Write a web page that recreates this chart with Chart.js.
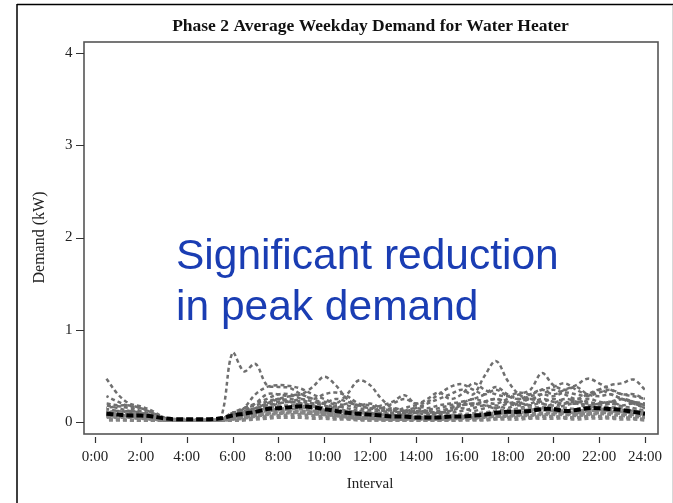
<!DOCTYPE html>
<html>
<head>
<meta charset="utf-8">
<script src="https://cdn.jsdelivr.net/npm/chart.js@4/dist/chart.umd.min.js"></script>
<style>
  html, body { margin: 0; padding: 0; background: #fff; }
  #wrap { width: 673px; height: 503px; position: relative; }
</style>
</head>
<body>
<div id="wrap"><canvas id="c"></canvas></div>
<script>
// ---- data (half-hour intervals, hours 0.5 .. 24) ----
const hours = [0.5,1,1.5,2,2.5,3,3.5,4,4.5,5,5.5,6,6.5,7,7.5,8,8.5,9,9.5,10,10.5,11,11.5,12,
               12.5,13,13.5,14,14.5,15,15.5,16,16.5,17,17.5,18,18.5,19,19.5,20,20.5,21,21.5,22,22.5,23,23.5,24];
const xTickLabels = ["0:00","2:00","4:00","6:00","8:00","10:00","12:00","14:00","16:00","18:00","20:00","22:00","24:00"];
const yTickLabels = ["0","1","2","3","4"];

const averageDemand = [0.09,0.08,0.07,0.07,0.06,0.04,0.03,0.03,0.03,0.03,0.04,0.07,0.09,0.11,0.14,0.15,0.16,0.17,0.16,0.14,0.12,0.10,0.09,0.08,
                       0.07,0.06,0.06,0.05,0.05,0.05,0.06,0.06,0.07,0.08,0.10,0.11,0.11,0.12,0.14,0.14,0.12,0.13,0.15,0.15,0.14,0.13,0.11,0.09];

const site1 = [0.47,0.30,0.20,0.17,0.12,0.05,0.02,0.02,0.02,0.02,0.03,0.10,0.15,0.18,0.22,0.25,0.22,0.20,0.18,0.15,0.12,0.10,0.12,0.10,
               0.08,0.07,0.08,0.10,0.12,0.10,0.12,0.18,0.20,0.18,0.15,0.20,0.22,0.25,0.20,0.18,0.20,0.22,0.20,0.18,0.20,0.17,0.15,0.12];
const site2 = [0.28,0.22,0.17,0.15,0.10,0.04,0.02,0.02,0.02,0.02,0.05,0.75,0.55,0.63,0.40,0.38,0.37,0.30,0.25,0.20,0.15,0.12,0.10,0.10,
               0.08,0.08,0.10,0.12,0.10,0.08,0.10,0.12,0.15,0.18,0.15,0.12,0.15,0.18,0.20,0.15,0.18,0.20,0.15,0.12,0.15,0.13,0.12,0.10];
const site3 = [0.15,0.17,0.15,0.12,0.08,0.04,0.02,0.02,0.02,0.02,0.03,0.10,0.12,0.20,0.30,0.30,0.28,0.30,0.38,0.49,0.40,0.25,0.18,0.15,
               0.12,0.10,0.12,0.15,0.12,0.10,0.15,0.20,0.25,0.22,0.20,0.25,0.30,0.35,0.53,0.40,0.35,0.38,0.30,0.28,0.30,0.25,0.22,0.20];
const site4 = [0.10,0.12,0.10,0.08,0.05,0.03,0.02,0.02,0.02,0.02,0.02,0.08,0.15,0.20,0.25,0.30,0.30,0.25,0.20,0.22,0.20,0.30,0.45,0.40,
               0.25,0.15,0.12,0.15,0.20,0.25,0.30,0.35,0.30,0.50,0.66,0.45,0.30,0.25,0.30,0.35,0.30,0.25,0.30,0.35,0.30,0.25,0.20,0.18];
const site5 = [0.20,0.18,0.18,0.15,0.10,0.05,0.02,0.02,0.02,0.02,0.02,0.05,0.15,0.30,0.38,0.40,0.39,0.36,0.30,0.25,0.20,0.18,0.15,0.13,
               0.15,0.20,0.25,0.20,0.22,0.30,0.38,0.41,0.35,0.30,0.35,0.28,0.25,0.30,0.35,0.30,0.35,0.40,0.47,0.42,0.35,0.30,0.30,0.25];
const site6 = [0.08,0.10,0.08,0.06,0.04,0.02,0.02,0.02,0.02,0.02,0.02,0.04,0.08,0.12,0.18,0.22,0.25,0.22,0.20,0.18,0.15,0.20,0.18,0.15,
               0.18,0.22,0.29,0.20,0.25,0.32,0.25,0.30,0.42,0.35,0.30,0.28,0.32,0.30,0.35,0.38,0.42,0.35,0.30,0.35,0.40,0.42,0.46,0.35];
const site7 = [0.12,0.10,0.12,0.10,0.06,0.03,0.02,0.02,0.02,0.02,0.02,0.06,0.10,0.15,0.20,0.25,0.28,0.30,0.25,0.30,0.32,0.28,0.20,0.18,
               0.15,0.12,0.15,0.18,0.15,0.18,0.20,0.22,0.25,0.30,0.38,0.30,0.25,0.28,0.30,0.28,0.32,0.30,0.28,0.32,0.35,0.30,0.28,0.25];
const site8 = [0.05,0.08,0.06,0.05,0.03,0.02,0.02,0.02,0.02,0.02,0.02,0.05,0.08,0.12,0.15,0.20,0.22,0.25,0.22,0.20,0.25,0.22,0.18,0.20,
               0.15,0.12,0.10,0.12,0.10,0.12,0.15,0.18,0.20,0.22,0.25,0.22,0.20,0.25,0.22,0.25,0.22,0.20,0.25,0.22,0.20,0.25,0.22,0.18];
const site9 = [0.18,0.15,0.12,0.10,0.07,0.04,0.02,0.02,0.02,0.02,0.03,0.08,0.12,0.15,0.18,0.20,0.22,0.20,0.18,0.15,0.17,0.15,0.12,0.10,
               0.12,0.15,0.12,0.10,0.13,0.15,0.18,0.20,0.18,0.22,0.25,0.20,0.18,0.20,0.25,0.22,0.20,0.25,0.22,0.20,0.22,0.25,0.20,0.15];
const site10 = [0.14,0.12,0.10,0.08,0.06,0.03,0.02,0.02,0.02,0.02,0.02,0.06,0.10,0.14,0.20,0.25,0.22,0.18,0.15,0.12,0.10,0.12,0.10,0.08,
                0.10,0.08,0.07,0.10,0.08,0.10,0.12,0.15,0.12,0.15,0.18,0.15,0.20,0.18,0.15,0.20,0.25,0.22,0.18,0.20,0.22,0.18,0.20,0.15];
const site11 = [0.08,0.07,0.06,0.06,0.04,0.02,0.01,0.01,0.01,0.01,0.02,0.04,0.06,0.08,0.10,0.10,0.11,0.10,0.09,0.08,0.07,0.05,0.04,0.04,
                0.03,0.03,0.03,0.04,0.03,0.03,0.04,0.05,0.05,0.06,0.07,0.08,0.08,0.09,0.10,0.10,0.09,0.08,0.10,0.11,0.10,0.09,0.08,0.07];
const site12 = [0.10,0.09,0.08,0.07,0.05,0.03,0.02,0.02,0.02,0.02,0.03,0.05,0.07,0.09,0.12,0.13,0.14,0.14,0.12,0.10,0.08,0.06,0.05,0.05,
                0.04,0.04,0.04,0.05,0.04,0.04,0.05,0.06,0.06,0.07,0.09,0.10,0.10,0.12,0.13,0.12,0.11,0.10,0.12,0.13,0.12,0.11,0.10,0.08];
const site13 = [0.03,0.03,0.02,0.02,0.01,0.01,0.01,0.01,0.01,0.01,0.01,0.02,0.03,0.05,0.06,0.07,0.08,0.08,0.07,0.06,0.05,0.04,0.03,0.02,
                0.02,0.02,0.02,0.02,0.02,0.02,0.02,0.03,0.03,0.03,0.04,0.05,0.05,0.05,0.06,0.06,0.05,0.05,0.06,0.06,0.05,0.05,0.04,0.03];
const site14 = [0.06,0.05,0.05,0.04,0.03,0.02,0.02,0.02,0.02,0.02,0.02,0.03,0.05,0.07,0.09,0.11,0.12,0.12,0.11,0.10,0.09,0.07,0.06,0.05,
                0.05,0.04,0.04,0.04,0.04,0.04,0.04,0.05,0.05,0.06,0.06,0.07,0.08,0.08,0.09,0.10,0.10,0.09,0.09,0.10,0.10,0.09,0.08,0.06];
const site15 = [0.11,0.10,0.09,0.09,0.07,0.04,0.03,0.03,0.02,0.02,0.03,0.06,0.10,0.12,0.15,0.17,0.18,0.18,0.17,0.15,0.13,0.11,0.10,0.09,
                0.08,0.07,0.07,0.07,0.06,0.06,0.07,0.08,0.09,0.10,0.12,0.13,0.14,0.15,0.16,0.16,0.15,0.14,0.16,0.17,0.16,0.15,0.13,0.11];
const site16 = [0.02,0.02,0.02,0.01,0.01,0.01,0.01,0.01,0.01,0.01,0.01,0.01,0.02,0.03,0.04,0.05,0.05,0.05,0.04,0.04,0.03,0.03,0.02,0.02,
                0.02,0.01,0.01,0.01,0.01,0.01,0.01,0.02,0.02,0.02,0.03,0.03,0.03,0.04,0.04,0.04,0.04,0.03,0.04,0.04,0.04,0.03,0.03,0.02];
const site17 = [0.05,0.06,0.05,0.04,0.03,0.02,0.01,0.01,0.01,0.01,0.02,0.05,0.08,0.10,0.12,0.14,0.15,0.16,0.15,0.13,0.11,0.09,0.07,0.06,
                0.05,0.05,0.05,0.05,0.05,0.05,0.06,0.06,0.07,0.08,0.10,0.11,0.12,0.13,0.14,0.13,0.12,0.12,0.13,0.14,0.13,0.12,0.10,0.08];
const site18 = [0.07,0.06,0.06,0.05,0.04,0.03,0.02,0.02,0.02,0.02,0.02,0.03,0.04,0.06,0.08,0.09,0.10,0.10,0.09,0.08,0.07,0.06,0.05,0.04,
                0.04,0.03,0.03,0.03,0.03,0.03,0.03,0.04,0.04,0.05,0.06,0.06,0.07,0.07,0.08,0.08,0.08,0.07,0.08,0.09,0.08,0.07,0.06,0.05];

const upperSites = [site1, site2, site3, site4, site5, site6, site7, site8, site9, site10];
const lowerSites = [site11, site12, site13, site14, site15, site16, site17, site18];

const titleText = "Phase 2 Average Weekday Demand for Water Heater";
const xTitle = "Interval";
const yTitle = "Demand (kW)";
const noteLines = ["Significant reduction", "in peak demand"];

// ---- build datasets ----
function pts(arr) { return arr.map((v, i) => ({ x: hours[i], y: v })); }
const datasets = [];
datasets.push({ label: "Average", data: pts(averageDemand), borderColor: "#000", borderWidth: 4,
  borderDash: [7, 3], pointRadius: 0, tension: 0.35, fill: false });
lowerSites.forEach((s, k) => datasets.push({ label: "L" + k, data: pts(s), borderColor: "#858585",
  borderWidth: 3.2, borderDash: [4, 3], borderDashOffset: k * 2.3, pointRadius: 0, tension: 0.35, fill: false }));
upperSites.forEach((s, k) => datasets.push({ label: "U" + k, data: pts(s), borderColor: "#6f6f6f",
  borderWidth: 2.5, borderDash: [4, 3], borderDashOffset: k * 1.7, pointRadius: 0, tension: 0.35, fill: false }));

const serif = "'Liberation Serif', 'Times New Roman', serif";

const decorPlugin = {
  id: 'decor',
  afterLayout(chart) {
    // let the left axis (labels + title) use the whole left margin
    const y = chart.scales.y;
    y.left = 0;
    y.width = y.right;
  },
  beforeDraw(chart) {
    const ctx = chart.ctx;
    ctx.save();
    ctx.fillStyle = '#fff';
    ctx.fillRect(0, 0, chart.width, chart.height);
    ctx.strokeStyle = '#000';
    ctx.lineWidth = 1.5;
    ctx.beginPath();
    ctx.moveTo(17, 4.5); ctx.lineTo(chart.width, 4.5);
    ctx.moveTo(17, 4); ctx.lineTo(17, chart.height);
    ctx.stroke();
    ctx.strokeStyle = '#d8d8d8';
    ctx.lineWidth = 1;
    ctx.beginPath();
    ctx.moveTo(chart.width - 0.5, 6); ctx.lineTo(chart.width - 0.5, chart.height);
    ctx.stroke();
    ctx.restore();
  },
  afterDraw(chart) {
    const ctx = chart.ctx;
    const ca = chart.chartArea;
    const xs = chart.scales.x, ys = chart.scales.y;
    ctx.save();
    // plot frame
    ctx.strokeStyle = '#555';
    ctx.lineWidth = 1.6;
    const fl = ca.left - 11, ft = ca.top - 11, fr = ca.right + 13, fb = ca.bottom + 12;
    ctx.strokeRect(fl, ft, fr - fl, fb - ft);
    // tick marks
    ctx.strokeStyle = '#333';
    ctx.lineWidth = 1.2;
    ctx.beginPath();
    xs.ticks.forEach(t => {
      const px = Math.round(xs.getPixelForValue(t.value)) + 0.5;
      ctx.moveTo(px, fb + 3); ctx.lineTo(px, fb + 9);
    });
    ys.ticks.forEach(t => {
      const py = Math.round(ys.getPixelForValue(t.value)) + 0.5;
      ctx.moveTo(fl - 8, py); ctx.lineTo(fl, py);
    });
    ctx.stroke();
    // annotation
    ctx.fillStyle = '#1a3db3';
    ctx.font = "42.5px 'Liberation Sans', Arial, sans-serif";
    ctx.textBaseline = 'alphabetic';
    ctx.textAlign = 'left';
    ctx.fillText(noteLines[0], 176, 269);
    ctx.fillText(noteLines[1], 176, 320);
    ctx.restore();
  }
};

new Chart(document.getElementById('c'), {
  type: 'line',
  data: { datasets },
  options: {
    responsive: true,
    maintainAspectRatio: false,
    animation: false,
    layout: { padding: { left: 68, right: 0, top: 0, bottom: 0 } },
    plugins: {
      legend: { display: false },
      tooltip: { enabled: false },
      title: {
        display: true, text: titleText, color: '#111',
        font: { family: serif, size: 17.5, weight: 'bold' },
        padding: { top: 15.5, bottom: 16.5 }
      }
    },
    scales: {
      x: {
        type: 'linear', min: 0, max: 24,
        grid: { display: true, drawOnChartArea: false, drawTicks: true, tickLength: 26, tickColor: 'rgba(0,0,0,0)' },
        border: { display: false },
        ticks: { stepSize: 2, padding: 0, color: '#222', font: { family: serif, size: 15 },
          maxRotation: 0, autoSkip: false,
          callback: v => xTickLabels[Math.round(v / 2)] },
        title: { display: true, text: xTitle, color: '#222', font: { family: serif, size: 15 },
          padding: { top: 0, bottom: 10 } },
        afterFit: s => { s.height = 81; }
      },
      y: {
        type: 'linear', min: 0, max: 4, position: 'left',
        grid: { display: false, drawTicks: false },
        border: { display: false },
        ticks: { stepSize: 1, padding: 22.5, color: '#222', font: { family: serif, size: 15 },
          callback: v => yTickLabels[Math.round(v)] },
        title: { display: true, text: yTitle, color: '#222', font: { family: serif, size: 16 },
          padding: { top: 30.4, bottom: 0 } },
        afterFit: s => { s.width = 27; }
      },
      yRight: {
        type: 'linear', position: 'right', display: true,
        grid: { display: false, drawTicks: false },
        border: { display: false },
        ticks: { display: false },
        afterFit: s => { s.width = 28; }
      }
    }
  },
  plugins: [decorPlugin]
});
</script>
</body>
</html>
